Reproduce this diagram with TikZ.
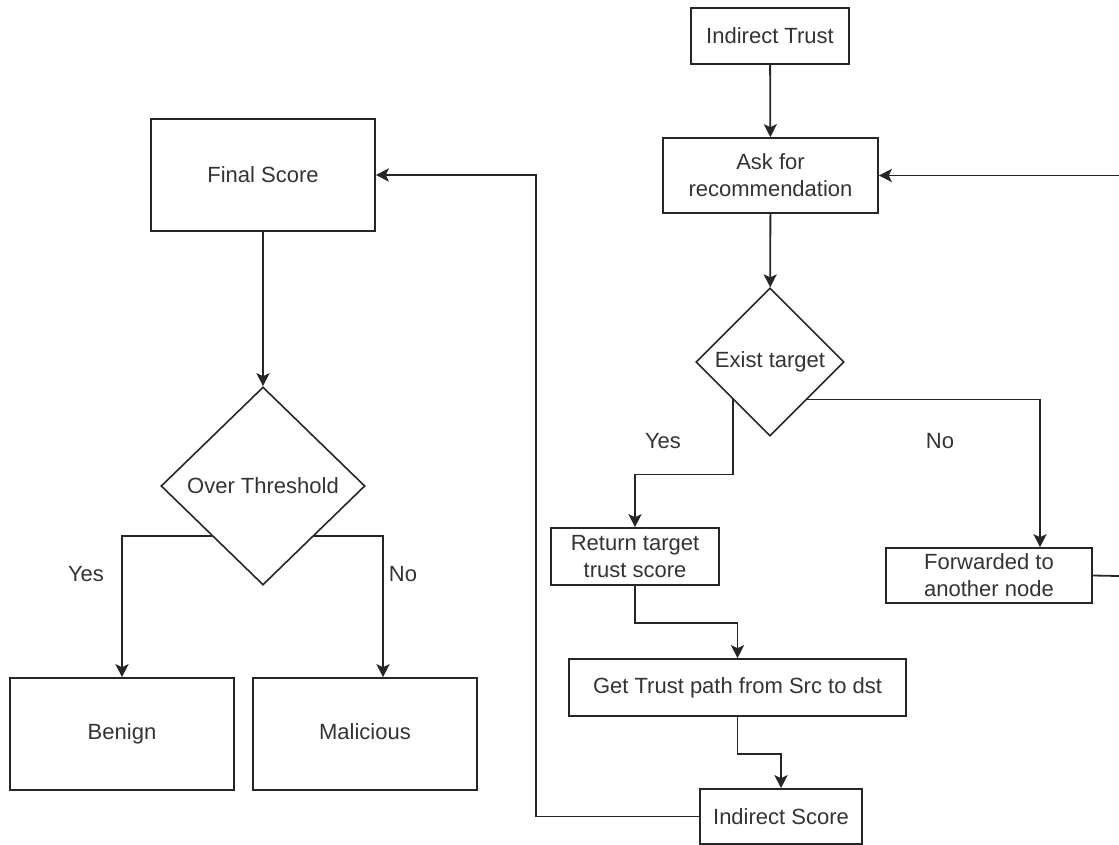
\documentclass[tikz,border=0pt]{standalone}
\usepackage{fontspec}
\setmainfont{Liberation Sans}
\usetikzlibrary{shapes.geometric,arrows.meta}

\begin{document}
\begin{tikzpicture}[x=0.5pt, y=-0.5pt,
    font=\fontsize{11pt}{13.5pt}\selectfont, text=black!80,
    box/.style={draw=black!85, line width=0.8pt, inner sep=0pt, align=center},
    decision/.style={draw=black!85, line width=0.8pt, diamond, inner sep=0pt, aspect=1},
    flow/.style={draw=black!85, line width=0.9pt, -{Stealth[length=6.5pt, width=6.5pt, inset=1.5pt]}}]
     \useasboundingbox (0,0) rectangle (1119,845);

     % left column
     \node[box, minimum width=112pt, minimum height=56pt] (final) at (263,175) {Final Score};
     \node[decision, minimum width=102pt, minimum height=99pt] (over) at (263,486) {Over Threshold};
     \node[box, minimum width=112pt, minimum height=56pt, text height=8pt, text depth=2.5pt] (benign) at (122,734) {Benign};
     \node[box, minimum width=112pt, minimum height=56pt, text height=8pt, text depth=2.5pt] (malicious) at (365,734) {Malicious};
     \node (yesL) at (86,574) {Yes};
     \node (noL) at (403,574) {No};

     % right column
     \node[box, minimum width=79pt, minimum height=28pt] (itrust) at (770,36) {Indirect Trust};
     \node[box, minimum width=107.5pt, minimum height=37.5pt] (ask) at (770.5,175.5) {Ask for\\recommendation};
     \node[decision, minimum width=74pt, minimum height=74pt] (exist) at (770,362) {Exist target};
     \node[box, minimum width=84pt, minimum height=28.5pt] (ret) at (635,556.5) {Return target\\trust score};
     \node[box, minimum width=168.5pt, minimum height=28.5pt] (path) at (737.5,687.5) {Get Trust path from Src to dst};
     \node[box, minimum width=81pt, minimum height=27.5pt] (iscore) at (781,816.5) {Indirect Score};
     \node[box, minimum width=103pt, minimum height=27.5pt] (fwd) at (989,575.5) {Forwarded to\\another node};
     \node (yesR) at (663,441) {Yes};
     \node (noR) at (940,441) {No};
     \coordinate (edgeIn) at (1119,175.5);
     \coordinate (edgeOut) at (1119,576);

     \draw[flow] (final) -- (over);
     \draw[flow] (over.south west) -| (benign.north);
     \draw[flow] (over.south east) -| ([xshift=9pt]malicious.north);

     \draw[flow] (itrust) -- (ask);
     \draw[flow] (ask) -- (exist);
     \draw[flow] (exist.south west) -- ++(0,75) -| (ret.north);
     \draw[flow] (ret.south) -- ++(0,37) -| (path.north);
     \draw[flow] (path.south) -- ++(0,37) -| (iscore.north);
     \draw[flow] (iscore.west) -- ++(-163,0) |- (final.east);
     \draw[flow] (exist.south east) -| ([xshift=25.5pt]fwd.north);
     \draw[draw=black!85, line width=0.9pt] (fwd.east) -- (edgeOut);
     \draw[flow] (edgeIn) -- (ask.east);
   \end{tikzpicture}
\end{document}
